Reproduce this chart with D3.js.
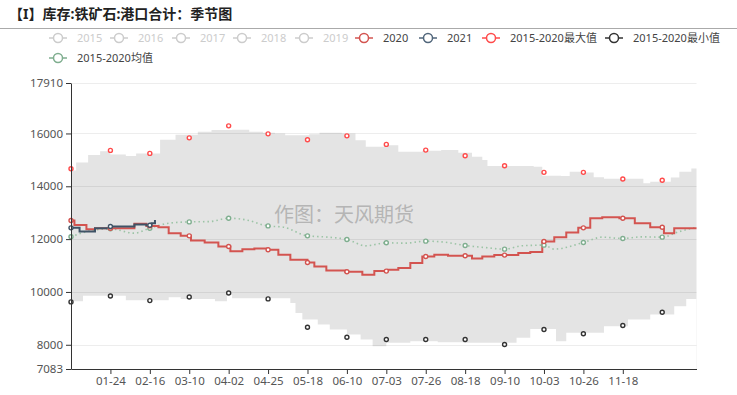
<!DOCTYPE html>
<html>
<head>
<meta charset="utf-8">
<script src="https://cdn.jsdelivr.net/npm/d3@7"></script>
<style>
  body { margin: 0; background: #fff; }
  text { font-family: "Noto Sans", "Noto Sans CJK SC", sans-serif; }
</style>
</head>
<body>
<svg id="chart"></svg>
<script>
// x categories are day-of-year (0 = 01-01) of a 366-day season year
const tickLabels = ["01-24", "02-16", "03-10", "04-02", "04-25", "05-18", "06-10",
                    "07-03", "07-26", "08-18", "09-10", "10-03", "10-26", "11-18"];
const yTicks = [7083, 8000, 10000, 12000, 14000, 16000, 17910];

// symbols are shown every 23rd day
const markerDays = d3.range(0, 366, 23);
const maxValues = [14664, 15358, 15245, 15834, 16287, 15985, 15760, 15910,
                   15585, 15370, 15155, 14778, 14528, 14528, 14275, 14226];
const minValues = [9623, 9849, 9672, 9811, 9962, 9736, 8665, 8287,
                   8200, 8200, 8200, 8011, 8577, 8415, 8728, 9230];

// range band 2015-2020 (step edges)
const bandUpDays = [0, 3, 10, 17, 23, 32, 38, 52, 61, 74, 82, 94, 104, 112, 119, 125, 139, 145,
                    158, 166, 172, 183, 191, 205, 216, 226, 234, 240, 243, 270, 275, 286, 291,
                    297, 305, 311, 334, 338, 350, 355, 362, 365];
const bandUpValues = [14600, 14900, 15180, 15330, 15200, 15150, 15240, 15760, 15950, 16060, 16130,
                      16140, 16060, 16030, 16000, 15936, 15973, 16024, 15998, 15747, 15495, 15558,
                      15307, 15344, 15370, 15269, 15118, 14992, 14770, 14740, 14400, 14389, 14552,
                      14520, 14338, 14288, 14112, 14175, 14330, 14552, 14678, 14678];
const bandLowDays = [0, 7, 32, 57, 64, 84, 91, 94, 128, 131, 135, 144, 151, 161, 169, 176, 184,
                     198, 214, 229, 260, 268, 283, 289, 311, 325, 338, 352, 359, 365];
const bandLowValues = [9646, 9860, 9684, 9797, 9734, 9646, 9898, 9765, 9583, 9206, 8954, 8766,
                       8577, 8388, 8200, 7948, 8074, 8137, 8099, 8074, 8262, 8602, 8137, 8451,
                       8703, 8954, 9143, 9457, 9734, 9734];

// 2020 (weekly, forward filled)
const days2020 = [0, 2, 9, 14, 37, 44, 51, 57, 64, 70, 78, 86, 93, 100, 107, 115, 121, 128, 138,
                  142, 149, 160, 170, 177, 185, 191, 198, 205, 212, 220, 234, 240, 247, 261, 268,
                  275, 282, 289, 296, 303, 310, 320, 329, 338, 346, 352, 365];
const values2020 = [12703, 12539, 12375, 12413, 12577, 12501, 12451, 12225, 12124, 11948, 11872,
                    11721, 11545, 11621, 11646, 11596, 11407, 11218, 11117, 10966, 10816, 10765,
                    10652, 10790, 10841, 10904, 11092, 11344, 11407, 11369, 11268, 11344, 11394,
                    11470, 11508, 11910, 12074, 12250, 12426, 12791, 12828, 12791, 12602, 12451,
                    12225, 12413, 12413];

// 2021
const days2021 = [0, 5, 14, 23, 37, 44, 47, 49];
const values2021 = [12426, 12287, 12413, 12476, 12551, 12526, 12602, 12728];

// 2015-2020 average
const avgDays = [0, 14, 23, 37, 46, 57, 69, 81, 92, 104, 112, 115, 124, 138, 150, 161, 172, 184,
                 195, 207, 218, 230, 241, 253, 263, 276, 282, 299, 310, 322, 333, 345, 355, 365];
const avgValues = [12087, 12350, 12388, 12225, 12413, 12602, 12652, 12665, 12791, 12703, 12539,
                   12501, 12451, 12124, 12074, 11986, 11746, 11860, 11847, 11923, 11885, 11759,
                   11684, 11621, 11747, 11772, 11621, 11872, 12074, 12023, 12086, 12074, 12287, 12451];

const legendNames = ["2015", "2016", "2017", "2018", "2019", "2020", "2021",
                     "2015-2020最大值", "2015-2020最小值", "2015-2020均值"];
const legendColors = ["#ccc", "#ccc", "#ccc", "#ccc", "#ccc", "#d35450", "#51667b",
                      "#ff4b4b", "#333", "#7fae8f"];
const legendOff = [true, true, true, true, true, false, false, false, false, false];

const width = 737, height = 395;
const margin = {top: 83, right: 40, bottom: 26, left: 71};

const svg = d3.select("#chart")
  .attr("width", width)
  .attr("height", height);

const x = d3.scaleLinear()
  .domain([0, 365])
  .range([margin.left, 696.5]);

const y = d3.scaleLinear()
  .domain([7083, 17910])
  .range([height - margin.bottom, margin.top]);

const zip = (ds, vs) => ds.map((d, i) => ({day: d, v: vs[i]}));

// band: grey under the upper edge, then white under the lower edge
const upper = zip(bandUpDays, bandUpValues);
const lower = zip(bandLowDays, bandLowValues);
svg.append("path")
  .datum(upper)
  .attr("fill", "#e4e4e4")
  .attr("d", d3.area().curve(d3.curveStepAfter)
    .x(d => x(d.day)).y0(y(7083)).y1(d => y(d.v)));
svg.append("path")
  .datum(lower)
  .attr("fill", "#fff")
  .attr("d", d3.area().curve(d3.curveStepAfter)
    .x(d => x(d.day)).y0(y(7083)).y1(d => y(d.v)));

// grid lines
svg.append("g")
  .selectAll("line")
  .data(yTicks.slice(1))
  .join("line")
  .attr("x1", x(0)).attr("x2", x(365))
  .attr("y1", d => Math.round(y(d)) + 0.5).attr("y2", d => Math.round(y(d)) + 0.5)
  .attr("stroke", "#000").attr("stroke-opacity", 0.07);

// watermark
svg.append("text")
  .attr("x", 344).attr("y", 222)
  .attr("text-anchor", "middle")
  .attr("font-size", 20)
  .attr("fill", "#a8a8a8")
  .attr("fill-opacity", 0.8)
  .text("作图：天风期货");

// average (dotted)
const avg = zip(avgDays, avgValues);
svg.append("path")
  .datum(avg)
  .attr("fill", "none")
  .attr("stroke", "#9cc4a6")
  .attr("stroke-width", 1.6)
  .attr("stroke-dasharray", "1.5,3")
  .attr("d", d3.line().curve(d3.curveMonotoneX).x(d => x(d.day)).y(d => y(d.v)));

// 2020 and 2021 step lines
const s2020 = zip(days2020, values2020);
const s2021 = zip(days2021, values2021);
const stepLine = d3.line().curve(d3.curveStepAfter).x(d => x(d.day)).y(d => y(d.v));
svg.append("path").datum(s2020)
  .attr("fill", "none").attr("stroke", "#d35450").attr("stroke-width", 2)
  .attr("d", stepLine);
svg.append("path").datum(s2021)
  .attr("fill", "none").attr("stroke", "#3f5366").attr("stroke-width", 2)
  .attr("d", stepLine);

function valueAt(ds, vs, day) {
  return vs[d3.bisectRight(ds, day) - 1];
}

function drawMarkers(pts, color) {
  svg.append("g")
    .selectAll("circle")
    .data(pts)
    .join("circle")
    .attr("cx", d => x(d.day))
    .attr("cy", d => y(d.v))
    .attr("r", 2)
    .attr("fill", "#fff")
    .attr("stroke", color)
    .attr("stroke-width", 1.4);
}

drawMarkers(avg.filter(d => d.day % 23 === 0), "#7fae8f");
drawMarkers(markerDays.map((d, i) => ({day: d, v: maxValues[i]})), "#ff4b4b");
drawMarkers(markerDays.map((d, i) => ({day: d, v: minValues[i]})), "#333");
drawMarkers(markerDays.map(d => ({day: d, v: valueAt(days2020, values2020, d)})), "#d35450");
drawMarkers(markerDays.filter(d => d <= d3.max(days2021))
  .map(d => ({day: d, v: valueAt(days2021, values2021, d)})), "#3f5366");

// axes
const tickDays = tickLabels.map(s => d3.timeDay.count(new Date(2020, 0, 1), d3.timeParse("%Y-%m-%d")("2020-" + s)));

const yAxis = svg.append("g")
  .attr("transform", `translate(${margin.left},0)`)
  .call(d3.axisLeft(y).tickValues(yTicks).tickFormat(d3.format("d")).tickSize(5).tickSizeOuter(0));
const xAxis = svg.append("g")
  .attr("transform", `translate(0,${height - margin.bottom})`)
  .call(d3.axisBottom(x).tickValues(tickDays).tickFormat((d, i) => tickLabels[i]).tickSize(5).tickSizeOuter(0));

[yAxis, xAxis].forEach(g => {
  g.select(".domain").attr("stroke", "#333");
  g.selectAll(".tick line").attr("stroke", "#333");
  g.selectAll(".tick text").attr("fill", "#555").attr("font-size", 11.5)
    .attr("font-family", "Noto Sans, sans-serif");
});

// title
svg.append("text")
  .attr("x", 9).attr("y", 19)
  .attr("font-size", 14)
  .attr("font-weight", "bold")
  .attr("fill", "#222")
  .text("【I】库存:铁矿石:港口合计：季节图");
svg.append("line")
  .attr("x1", 0).attr("x2", width)
  .attr("y1", 28.5).attr("y2", 28.5)
  .attr("stroke", "#aaa");

// legend
const legendX = [49, 110, 172, 233, 295, 355, 419, 482, 605, 49];
const legendY = [38, 38, 38, 38, 38, 38, 38, 38, 38, 58];
const legend = svg.append("g")
  .selectAll("g")
  .data(legendNames)
  .join("g")
  .attr("transform", (d, i) => `translate(${legendX[i]},${legendY[i]})`);
legend.append("line")
  .attr("x1", 0).attr("x2", 18)
  .attr("stroke", (d, i) => legendColors[i])
  .attr("stroke-width", 1.5);
legend.append("circle")
  .attr("cx", 9).attr("r", 4.5)
  .attr("fill", "#fff")
  .attr("stroke", (d, i) => legendColors[i])
  .attr("stroke-width", 1.5);
legend.append("text")
  .attr("x", 28).attr("dy", "0.35em")
  .attr("font-size", 11)
  .attr("fill", (d, i) => legendOff[i] ? "#ccc" : "#444")
  .text(d => d);
</script>
</body>
</html>
